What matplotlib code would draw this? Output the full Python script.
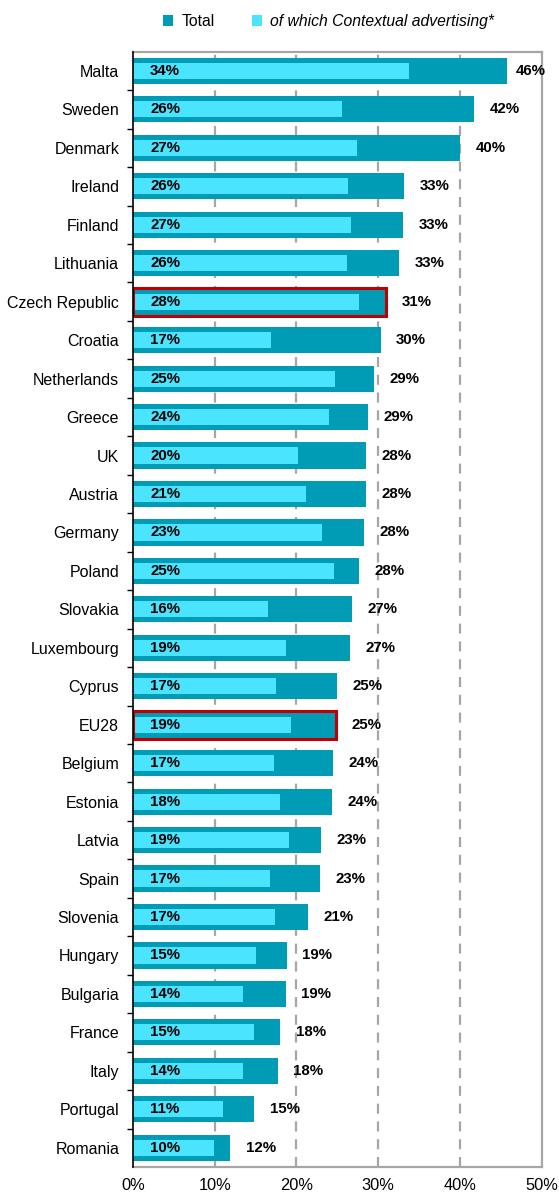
import numpy as np
import matplotlib.pyplot as plt
from matplotlib.patches import Rectangle

plt.rcParams['font.family'] = ['Liberation Sans', 'DejaVu Sans']

countries = ['Malta', 'Sweden', 'Denmark', 'Ireland', 'Finland', 'Lithuania',
             'Czech Republic', 'Croatia', 'Netherlands', 'Greece', 'UK', 'Austria',
             'Germany', 'Poland', 'Slovakia', 'Luxembourg', 'Cyprus', 'EU28',
             'Belgium', 'Estonia', 'Latvia', 'Spain', 'Slovenia', 'Hungary',
             'Bulgaria', 'France', 'Italy', 'Portugal', 'Romania']
total = [45.7, 41.7, 40.0, 33.2, 33.0, 32.6, 31.0, 30.3, 29.5, 28.8, 28.5, 28.5,
         28.3, 27.7, 26.8, 26.6, 25.0, 24.8, 24.5, 24.4, 23.0, 22.9, 21.4, 18.8,
         18.7, 18.0, 17.7, 14.8, 11.9]
contextual = [33.8, 25.6, 27.4, 26.3, 26.7, 26.2, 27.7, 16.9, 24.7, 24.0, 20.2, 21.2,
              23.1, 24.6, 16.5, 18.7, 17.5, 19.3, 17.3, 18.0, 19.1, 16.8, 17.4, 15.1,
              13.5, 14.8, 13.5, 11.0, 9.9]
total_labels = [46, 42, 40, 33, 33, 33, 31, 30, 29, 29, 28, 28, 28, 28, 27, 27, 25, 25,
                24, 24, 23, 23, 21, 19, 19, 18, 18, 15, 12]
ctx_labels = [34, 26, 27, 26, 27, 26, 28, 17, 25, 24, 20, 21, 23, 25, 16, 19, 17, 19,
              17, 18, 19, 17, 17, 15, 14, 15, 14, 11, 10]
highlight = ['Czech Republic', 'EU28']

c_total = '#009CB6'
c_ctx = '#4AE4FF'

fig = plt.figure(figsize=(5.59, 11.94), dpi=100)
ax = fig.add_axes([0.238, 0.0226, 0.731, 0.9341])

y = np.arange(len(countries))
ax.barh(y, total, height=0.68, color=c_total, zorder=3, label='Total')
ax.barh(y, contextual, height=0.42, color=c_ctx, zorder=4,
        label='of which Contextual advertising*')

for i, name in enumerate(countries):
    ax.text(2.1, i, f'{ctx_labels[i]}%', va='center', ha='left',
            fontsize=10.8, fontweight='bold', zorder=6)
    # Malta's label sits tight against the frame in the original
    off = 1.1 if i == 0 else 1.9
    ax.text(total[i] + off, i, f'{total_labels[i]}%', va='center', ha='left',
            fontsize=10.8, fontweight='bold', zorder=6)
    if name in highlight:
        ax.add_patch(Rectangle((0, i - 0.36), total[i], 0.72, fill=False,
                               edgecolor='#C00000', lw=2.2, zorder=5))

ax.set_xlim(0, 50)
ax.set_ylim(len(countries) - 0.5, -0.5)
ax.set_xticks(np.arange(0, 51, 10))
ax.set_xticklabels([f'{v}%' for v in range(0, 51, 10)], fontsize=11.8)
ax.set_yticks(y)
ax.set_yticklabels(countries, fontsize=11.5)
ax.tick_params(axis='y', length=0, pad=10)
ax.set_yticks(np.arange(0.5, len(countries) - 1, 1), minor=True)
ax.tick_params(axis='y', which='minor', length=4, width=1, color='black')
ax.tick_params(axis='x', length=0, pad=8)

for v in [10, 20, 30, 40]:
    ax.axvline(v, color='#A6A6A6', lw=1.6, ls=(0, (4.5, 3.5)), zorder=1)

for s in ['top', 'right', 'bottom']:
    ax.spines[s].set_color('#A6A6A6')
    ax.spines[s].set_linewidth(1.6)
ax.spines['left'].set_color('black')
ax.spines['left'].set_linewidth(1.2)
ax.spines['left'].set_zorder(7)

fig.legend(loc='upper center', bbox_to_anchor=(0.588, 1.0), ncol=2, frameon=False,
           fontsize=11.3, handlelength=0.65, handleheight=0.65, columnspacing=2.4,
           handletextpad=0.5)
leg = fig.legends[0]
leg.get_texts()[1].set_fontstyle('italic')

fig.savefig('out.png', dpi=100)
